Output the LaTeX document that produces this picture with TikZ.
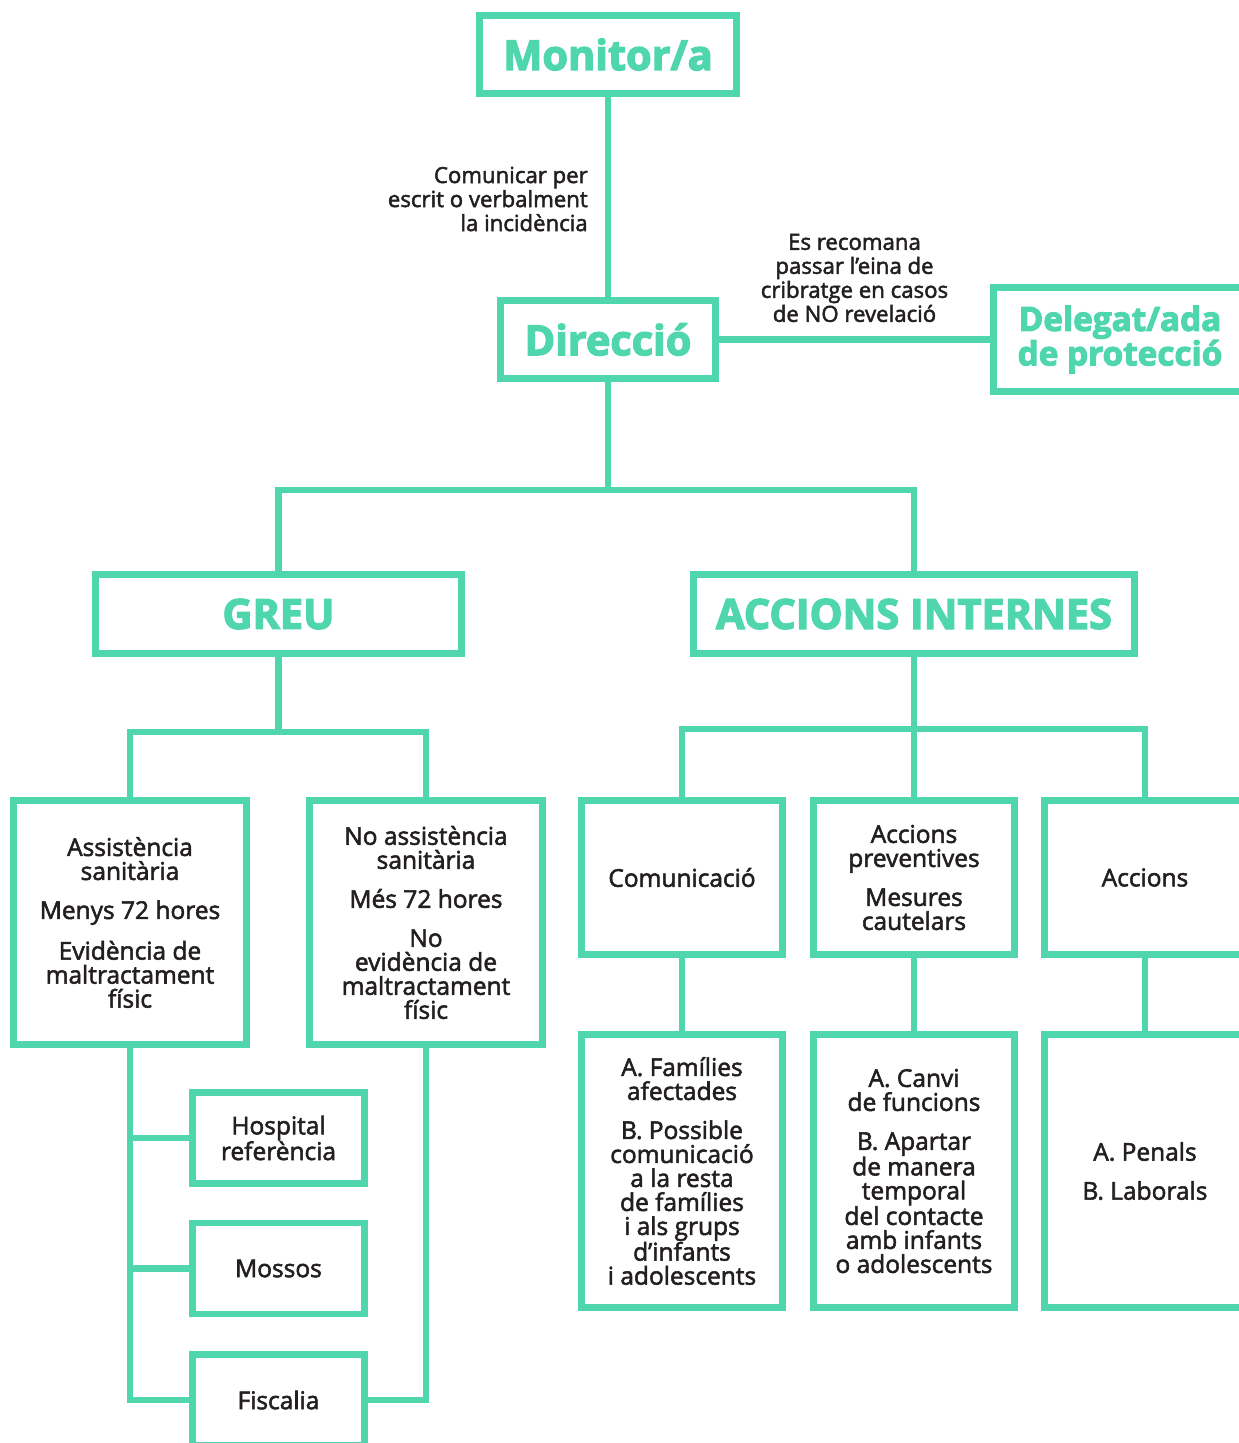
\documentclass[tikz,border=0pt]{standalone}
\usepackage{fontspec}
\setmainfont{Open Sans}
\newfontfamily\bodyfont{Open Sans}[FakeBold=2.2]
\newfontfamily\headfont{Open Sans}[BoldFeatures={FakeBold=3.2}]
\definecolor{mint}{HTML}{4FD6AD}
\definecolor{ink}{HTML}{231F20}

\begin{document}
\begin{tikzpicture}[x=1pt,y=-1pt,
  wire/.style={draw=mint,line width=6.5pt},
  box/.style={draw=mint,line width=6.5pt,rectangle,inner sep=0pt,align=center,text=ink,
    font=\bodyfont\fontsize{24.5}{24}\selectfont},
  title/.style={box,text=mint,font=\headfont\bfseries\fontsize{41.5}{40}\selectfont},
  note/.style={text=ink,inner sep=0pt,font=\bodyfont\fontsize{22.2}{24}\selectfont}]
% Page frame
\useasboundingbox (0,0) rectangle (1239,1443);
\clip (0,0) rectangle (1239,1443);
% Top of the chart
\node[title,minimum width=257pt,minimum height=78pt] (monitor) at (608,54.5) {Monitor/a};
\node[title,minimum width=215pt,minimum height=78pt] (direccio) at (608,339.5) {Direcció};
\node[title,font=\headfont\bfseries\fontsize{33.3}{32}\selectfont,minimum width=253pt,minimum height=104pt] (delegat) at (1120,339.5) {Delegat/ada\\de protecció};
\node[title,minimum width=366pt,minimum height=79pt] (greu) at (278.5,614) {GREU};
\node[title,minimum width=441pt,minimum height=79pt] (internes) at (914,614) {ACCIONS INTERNES};
% Serious cases
\node[box,minimum width=233pt,minimum height=244pt] (assist) at (130,922.5) {Assistència\\sanitària\\[15pt]Menys 72 hores\\[15pt]Evidència de\\maltractament\\físic};
\node[box,minimum width=233pt,minimum height=244pt] (noassist) at (426,922.5) {No assistència\\sanitària\\[15pt]Més 72 hores\\[15pt]No\\evidència de\\maltractament\\físic};
\node[box,minimum width=172pt,minimum height=91pt] (hospital) at (278.5,1138) {Hospital\\referència};
\node[box,minimum width=172pt,minimum height=91pt] (mossos) at (278.5,1268.5) {Mossos};
\node[box,minimum width=172pt,minimum height=91pt] (fiscalia) at (278.5,1400) {Fiscalia};
% Internal actions
\node[box,minimum width=201pt,minimum height=154pt] (comunica) at (682,877.5) {Comunicació};
\node[box,minimum width=201pt,minimum height=154pt] (prevent) at (914,877.5) {Accions\\preventives\\[15pt]Mesures\\cautelars};
\node[box,minimum width=201pt,minimum height=154pt] (accio) at (1145,877.5) {Accions};
\node[box,minimum width=201pt,minimum height=273pt] (families) at (682,1171) {A. Famílies\\afectades\\[15pt]B. Possible\\comunicació\\a la resta\\de famílies\\i als grups\\d’infants\\i adolescents};
\node[box,minimum width=201pt,minimum height=273pt] (canvi) at (914,1171) {A. Canvi\\de funcions\\[15pt]B. Apartar\\de manera\\temporal\\del contacte\\amb infants\\o adolescents};
\node[box,minimum width=201pt,minimum height=273pt] (penals) at (1145,1171) {A. Penals\\[15pt]B. Laborals};
% Links from the top
\draw[wire] (monitor) -- node[note,anchor=east,align=right,xshift=-17pt,yshift=-2pt] {Comunicar per\\escrit o verbalment\\la incidència} (direccio);
\draw[wire] (direccio) -- node[note,align=center,yshift=61.5pt] {Es recomana\\passar l’eina de\\cribratge en casos\\de NO revelació} (delegat);
\coordinate (fork) at (608,490);
\draw[wire] (direccio) -- (fork);
\draw[wire] (greu) |- (fork) -| (internes);
% Links under GREU
\coordinate (forkgreu) at (278.5,732);
\draw[wire] (greu) -- (forkgreu);
\draw[wire] (assist) |- (forkgreu) -| (noassist);
\draw[wire] (assist) |- (fiscalia);
\draw[wire] (hospital) -| (assist);
\draw[wire] (mossos) -| (assist);
\draw[wire] (noassist) |- (fiscalia);
% Links under ACCIONS INTERNES
\coordinate (forkint) at (914,729);
\draw[wire] (internes) -- (forkint);
\draw[wire] (comunica) |- (forkint) -| (accio);
\draw[wire] (forkint) -- (prevent);
\draw[wire] (comunica) -- (families);
\draw[wire] (prevent) -- (canvi);
\draw[wire] (accio) -- (penals);
\end{tikzpicture}
\end{document}
